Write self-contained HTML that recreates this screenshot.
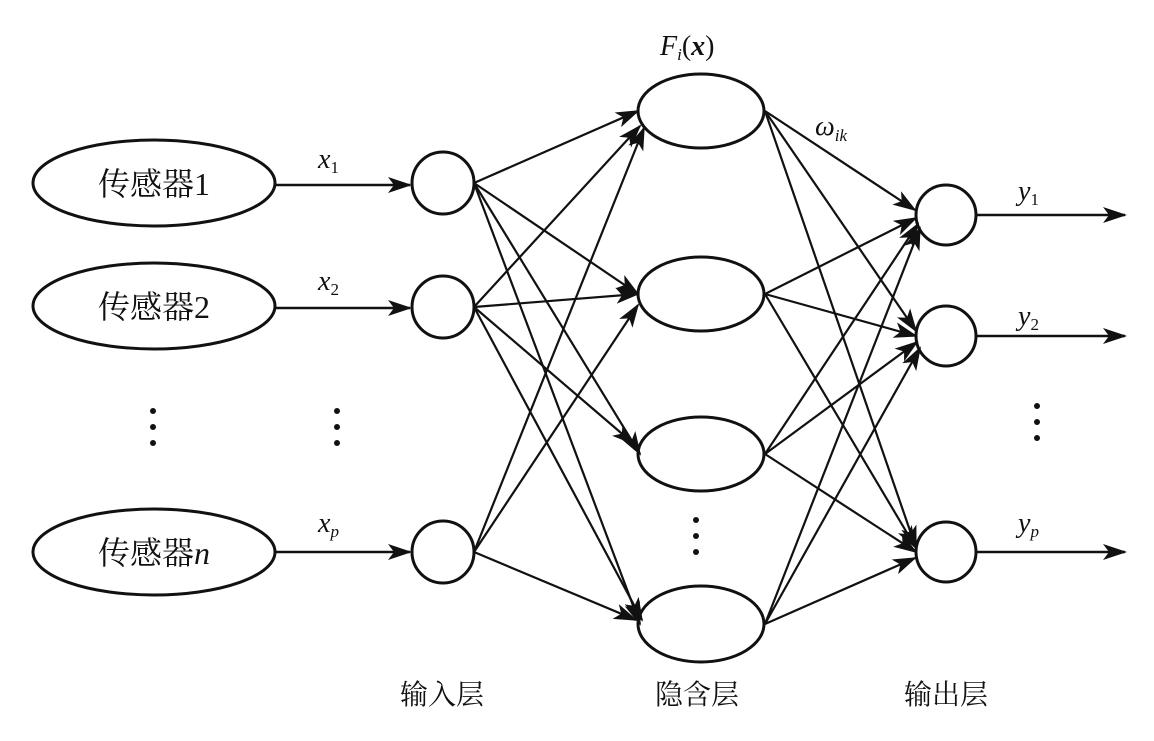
<!DOCTYPE html>
<html><head><meta charset="utf-8"><style>
html,body{margin:0;padding:0;background:#fff;}
svg{display:block}
text{font-family:"Liberation Serif","Noto Serif CJK SC",serif;fill:#111}
</style></head><body>
<svg width="1154" height="741" viewBox="0 0 1154 741" xmlns="http://www.w3.org/2000/svg">
<defs>
<marker id="a" markerWidth="10" markerHeight="8" refX="9" refY="4" orient="auto" markerUnits="userSpaceOnUse" viewBox="0 0 10 8">
<path d="M0,0 L10,4 L0,8 L3,4 z" fill="#111"/>
</marker>
<marker id="b" markerWidth="24" markerHeight="16" refX="22" refY="8" orient="auto" markerUnits="userSpaceOnUse" viewBox="0 0 24 16">
<path d="M0,0 L24,8 L0,16 L6,8 z" fill="#111"/>
</marker>
</defs>
<g fill="none" stroke="#111" stroke-width="3">
<ellipse cx="154" cy="183" rx="121" ry="43"/>
<ellipse cx="154" cy="306" rx="121" ry="43"/>
<ellipse cx="154" cy="552" rx="121" ry="43"/>
<circle cx="443" cy="183" r="31"/>
<circle cx="443" cy="307" r="31"/>
<circle cx="443" cy="552" r="31"/>
<ellipse cx="701" cy="111" rx="63" ry="37"/>
<ellipse cx="701" cy="294" rx="63" ry="37"/>
<ellipse cx="701" cy="454" rx="63" ry="37"/>
<ellipse cx="701" cy="624" rx="63" ry="38"/>
<circle cx="946" cy="215" r="30"/>
<circle cx="946" cy="336" r="30"/>
<circle cx="946" cy="552" r="30"/>
</g>
<g stroke="#111" stroke-width="2.5" marker-end="url(#b)">
<line x1="275" y1="185" x2="410" y2="185"/>
<line x1="275" y1="308" x2="410" y2="308"/>
<line x1="276" y1="552" x2="410" y2="552"/>
<line x1="976" y1="215" x2="1125" y2="215"/>
<line x1="976" y1="336" x2="1125" y2="336"/>
<line x1="976" y1="552" x2="1125" y2="552"/>
</g>
<g stroke="#111" stroke-width="2.2" marker-end="url(#b)">
<line x1="474" y1="183" x2="638" y2="111"/>
<line x1="474" y1="183" x2="638" y2="294"/>
<line x1="474" y1="183" x2="640" y2="454"/>
<line x1="474" y1="183" x2="640" y2="624"/>
<line x1="474" y1="307" x2="640" y2="126"/>
<line x1="474" y1="307" x2="638" y2="294"/>
<line x1="474" y1="307" x2="634" y2="444"/>
<line x1="474" y1="307" x2="642" y2="620"/>
<line x1="474" y1="552" x2="644" y2="128"/>
<line x1="474" y1="552" x2="638" y2="305"/>
<line x1="474" y1="552" x2="636" y2="620"/>
<line x1="765" y1="111" x2="915" y2="210"/>
<line x1="765" y1="111" x2="916" y2="331"/>
<line x1="765" y1="111" x2="916" y2="548"/>
<line x1="765" y1="294" x2="916" y2="218"/>
<line x1="765" y1="294" x2="916" y2="336"/>
<line x1="765" y1="294" x2="916" y2="548"/>
<line x1="765" y1="454" x2="918" y2="224"/>
<line x1="765" y1="454" x2="917" y2="342"/>
<line x1="765" y1="454" x2="916" y2="552"/>
<line x1="765" y1="624" x2="920" y2="228"/>
<line x1="765" y1="624" x2="920" y2="348"/>
<line x1="765" y1="624" x2="915" y2="558"/>
</g>
<g fill="#111">
<circle cx="153" cy="411" r="3"/><circle cx="153" cy="427" r="3"/><circle cx="153" cy="443" r="3"/>
<circle cx="337" cy="411" r="3"/><circle cx="337" cy="427" r="3"/><circle cx="337" cy="443" r="3"/>
<circle cx="696" cy="520" r="3"/><circle cx="696" cy="536" r="3"/><circle cx="696" cy="552" r="3"/>
<circle cx="1037" cy="406" r="3"/><circle cx="1037" cy="422" r="3"/><circle cx="1037" cy="438" r="3"/>
</g>
<g font-size="32" text-anchor="middle">
<text x="154" y="195">传感器1</text>
<text x="154" y="318">传感器2</text>
<text x="154" y="564">传感器<tspan font-style="italic">n</tspan></text>
</g>
<g font-size="28" font-style="italic">
<text x="318" y="168">x<tspan font-size="17" font-style="normal" dy="5">1</tspan></text>
<text x="318" y="290">x<tspan font-size="17" font-style="normal" dy="5">2</tspan></text>
<text x="318" y="532">x<tspan font-size="17" dy="5">p</tspan></text>
<text x="1018" y="200">y<tspan font-size="17" font-style="normal" dy="5">1</tspan></text>
<text x="1018" y="325">y<tspan font-size="17" font-style="normal" dy="5">2</tspan></text>
<text x="1018" y="532">y<tspan font-size="17" dy="5">p</tspan></text>
<text x="815" y="135">ω<tspan font-size="17" dy="6">ik</tspan></text>
<text x="660" y="55">F<tspan font-size="17" dy="5">i</tspan><tspan dy="-5" font-style="normal">(</tspan><tspan font-weight="bold">x</tspan><tspan font-style="normal">)</tspan></text>
</g>
<g font-size="28" text-anchor="middle">
<text x="442" y="704">输入层</text>
<text x="697" y="704">隐含层</text>
<text x="946" y="704">输出层</text>
</g>
</svg>
</body></html>
